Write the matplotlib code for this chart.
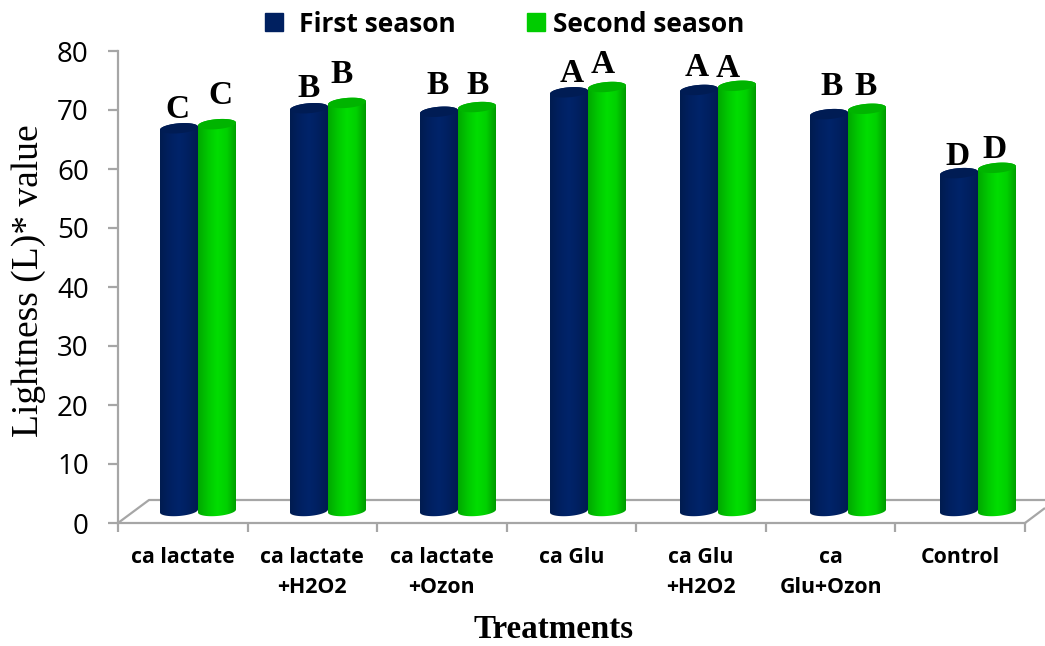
import numpy as np
import matplotlib
matplotlib.use("Agg")
import matplotlib.pyplot as plt
from matplotlib.patches import PathPatch, Patch
from matplotlib.path import Path
from matplotlib.colors import LinearSegmentedColormap

categories = ["ca lactate", "ca lactate\n+H2O2", "ca lactate\n+Ozon", "ca Glu",
              "ca Glu\n+H2O2", "ca\nGlu+Ozon", "Control"]
first_season = [66.9, 70.3, 69.7, 73.0, 73.4, 69.3, 59.3]
second_season = [67.6, 71.2, 70.5, 73.9, 74.1, 70.2, 60.2]
first_letters = ["C", "B", "B", "A", "A", "B", "D"]
second_letters = ["C", "B", "B", "A", "A", "B", "D"]
y_ticks = [0, 10, 20, 30, 40, 50, 60, 70, 80]

# hand placement of the significance letters relative to their bars, in pixels
first_letter_dx = [-2, 0, -1, 3, -2, 3, -1]
first_letter_dy = [19, 20, 26, 19, 22, 28, 17]
second_letter_dx = [3, -5, 1, -4, -9, -1, -2]
second_letter_dy = [29, 28, 22, 22, 17, 22, 18]

W, H = 1045, 646
GREY = "#a6a6a6"
NAVY = "#002060"
GREEN = "#00cc00"

fig = plt.figure(figsize=(W / 100, H / 100), dpi=100)
L, R, T, B = 118, 1025, 51, 523
ax = fig.add_axes([L / W, 1 - B / H, (R - L) / W, (B - T) / H])
ax.set_xlim(0, 7)
ax.set_ylim(0, 80)
ax.patch.set_alpha(0)

for s in ("top", "right"):
    ax.spines[s].set_visible(False)
for s in ("left", "bottom"):
    ax.spines[s].set_color(GREY)
    ax.spines[s].set_linewidth(1.6)

px_x = 7 / (R - L)
px_y = 80 / (B - T)

# 3-D floor
back_y = (B - 500) * px_y
back_x = (149 - L) * px_x
right_x = 7 + (1045 - R) * px_x
right_y = (B - 508) * px_y
floor_kw = dict(color=GREY, lw=1.6, clip_on=False, zorder=1, solid_capstyle="butt")
ax.plot([0, back_x, right_x], [0, back_y, back_y], **floor_kw)
ax.plot([7, right_x], [0, right_y], **floor_kw)

navy_cmap = LinearSegmentedColormap.from_list("n", ["#001c50", "#002060", "#00246a", "#002060", "#001c50"])
green_cmap = LinearSegmentedColormap.from_list("g", ["#00a800", "#00c800", "#00de00", "#00d000", "#009c00"])
grad = np.linspace(0, 1, 64)[None, :]

bar_w = 38 * px_x
ry = 5 * px_y          # half height of the cylinder's ellipse
base = (B - 511) * px_y
tilt = 1.5 * px_y      # ellipses lean upward to the right


def ell(cy, a):
    return cy + ry * np.sin(a) + tilt * np.cos(a)


def cylinder(xc, top, cmap, top_color, z):
    t = np.linspace(np.pi, 2 * np.pi, 40)
    t2 = np.linspace(0, np.pi, 40)
    verts = np.r_[np.c_[xc + bar_w / 2 * np.cos(t), ell(base, t)],
                  np.c_[xc + bar_w / 2 * np.cos(t2), ell(top, t2)]]
    body = PathPatch(Path(np.r_[verts, verts[:1]]), fc="none", ec="none", zorder=z)
    ax.add_patch(body)
    im = ax.imshow(grad, extent=[xc - bar_w / 2, xc + bar_w / 2, 0, 80], aspect="auto",
                   cmap=cmap, zorder=z, interpolation="bilinear")
    im.set_clip_path(body)
    a = np.linspace(0, 2 * np.pi, 80)
    ax.fill(xc + bar_w / 2 * np.cos(a), ell(top, a), color=top_color, zorder=z + 0.1, lw=0)


offset = (198 - L) * px_x
step = 130.0 * px_x
for i, (v1, v2) in enumerate(zip(first_season, second_season)):
    c = offset + i * step
    x1, x2 = c - bar_w / 2, c + bar_w / 2
    z = 3 + i
    cylinder(x1, v1, navy_cmap, "#001c54", z)
    cylinder(x2, v2, green_cmap, "#00b400", z + 0.3)
    ax.text(x1 + first_letter_dx[i] * px_x, v1 + first_letter_dy[i] * px_y, first_letters[i],
            ha="center", va="center", family="Liberation Serif", weight="bold",
            fontsize=24, zorder=20)
    ax.text(x2 + second_letter_dx[i] * px_x, v2 + second_letter_dy[i] * px_y, second_letters[i],
            ha="center", va="center", family="Liberation Serif", weight="bold",
            fontsize=24, zorder=20)

ax.set_yticks(y_ticks)
ax.set_xticks(range(8))
ax.set_xticklabels([])
ax.tick_params(axis="y", length=7, width=1.6, color=GREY, labelsize=20, pad=14)
ax.tick_params(axis="x", length=6.5, width=1.6, color=GREY)
for t in ax.get_yticklabels():
    t.set_family("Open Sans")

for i, lab in enumerate(categories):
    ax.text(i + 0.5, -(547 - B) * px_y, lab, ha="center", va="top", family="Open Sans",
            weight="bold", fontsize=15.3, linespacing=1.55, clip_on=False)

fig.text(554 / W, 1 - 630 / H, "Treatments", ha="center", va="center",
         family="Liberation Serif", weight="bold", fontsize=23.8)
fig.text(29 / W, 1 - 281 / H, "Lightness (L)* value", rotation=90, ha="center", va="center",
         family="Liberation Serif", fontsize=27)

# legend: one entry at a time because the two gaps differ
fs = 19
fs_px = fs / 0.72
for label, col, xpx, pad in (("First season", NAVY, 265, 16), ("Second season", GREEN, 527, 8)):
    fig.legend(handles=[Patch(color=col, label=label)], loc="center left",
               bbox_to_anchor=(xpx / W, 1 - 24 / H), frameon=False,
               borderpad=0, borderaxespad=0, handlelength=18 / fs_px,
               handleheight=18 / fs_px, handletextpad=pad / fs_px,
               prop=dict(family="Open Sans", weight="bold", size=fs))

fig.savefig("out.png", dpi=100)
